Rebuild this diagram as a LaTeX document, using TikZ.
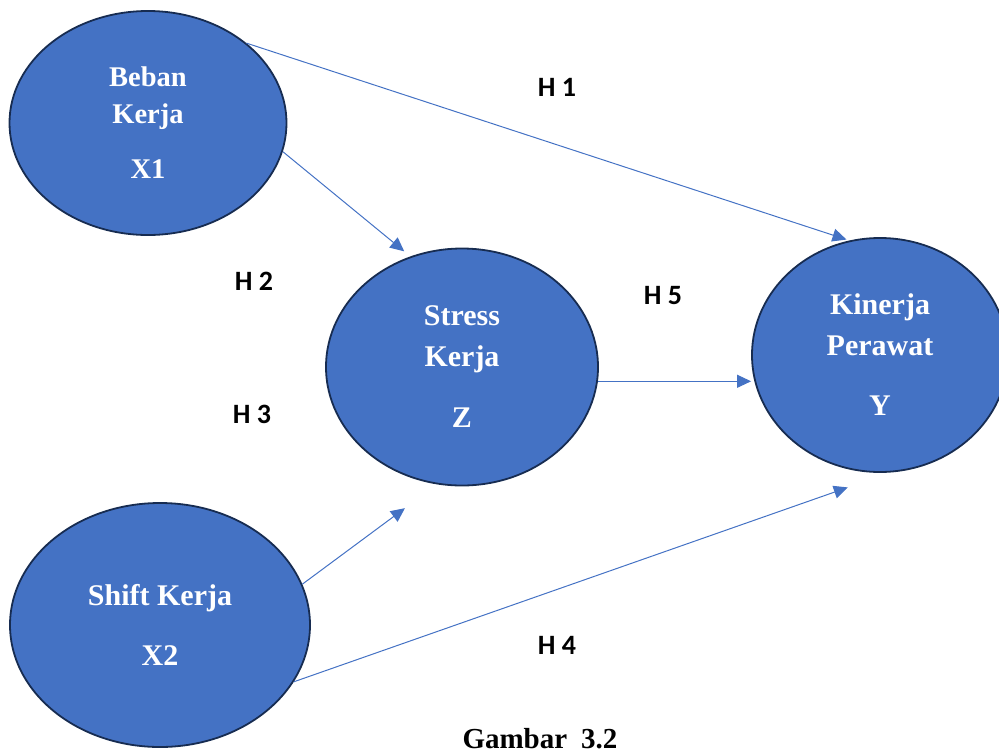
\documentclass[tikz,border=0pt]{standalone}
\usepackage{fontspec}
\setmainfont{Liberation Serif}
\newfontfamily\carlito{Carlito}
\usetikzlibrary{shapes.geometric,arrows.meta}
\definecolor{nodeblue}{HTML}{4472C4}
\definecolor{nodeedge}{HTML}{172C51}

\begin{document}
\begin{tikzpicture}[x=1pt,y=-1pt,
        latent/.style={ellipse,draw=nodeedge,line width=1.8pt,fill=nodeblue,
            inner sep=0pt,align=center,text=white,
            font=\fontsize{30}{41}\selectfont\bfseries},
        arr/.style={draw=nodeblue,line width=1pt,-{Triangle[length=14pt,width=13pt]}},
        hyp/.style={font=\carlito\fontsize{28}{28}\selectfont\bfseries}]
                \useasboundingbox (0,0) rectangle (999,753);
                \clip (0,0) rectangle (999,753);
                % variabel
                \node[latent,minimum width=277pt,minimum height=224pt,font=\fontsize{28.5}{37}\selectfont\bfseries] (X1) at (148,123) {Beban\\Kerja\\[18pt]X1};
                \node[latent,minimum width=300pt,minimum height=244pt] (X2) at (160,625) {Shift Kerja\\[19pt]X2};
                \node[latent,minimum width=272pt,minimum height=237pt] (Z) at (462,367) {Stress\\Kerja\\[20pt]Z};
                \node[latent,minimum width=256pt,minimum height=234pt] (Y) at (880,355) {Kinerja\\Perawat\\[19pt]Y};
                % hipotesis
                \draw[arr,shorten >=3pt] (X1.39) -- (Y.105);
                \draw[arr,shorten >=8pt] (X1.-12) -- (Z.115);
                \draw[arr,shorten >=40pt] (X2.16) -- (Z.-102);
                \draw[arr,shorten >=45pt] (X2.-23) -- (Y.-85);
                \draw[arr] (Z.-6) -- (Z.-6 -| Y.west);
                \node[hyp] (H1) at (557,87) {H 1};
                \node[hyp] (H2) at (254,281) {H 2};
                \node[hyp] (H3) at (252,414) {H 3};
                \node[hyp] (H4) at (557,645) {H 4};
                \node[hyp] (H5) at (663,296) {H 5};
                %\node (judul) ...
                \node[anchor=base,font=\fontsize{29}{29}\selectfont\bfseries] (caption) at (540,748) {Gambar\hspace{14pt}3.2};
            \end{tikzpicture}
\end{document}
